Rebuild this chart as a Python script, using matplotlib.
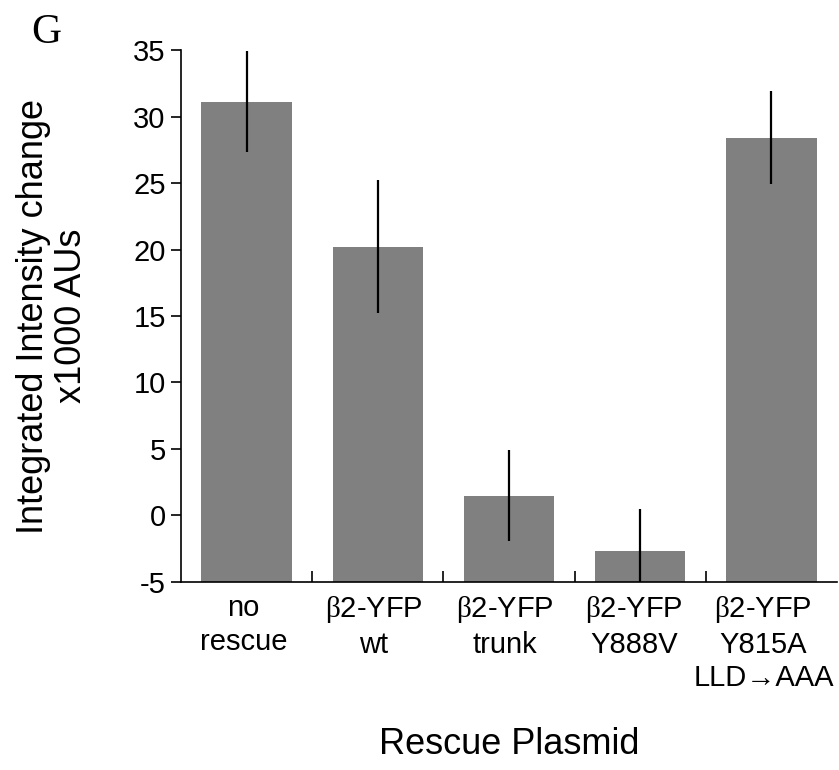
import numpy as np
import matplotlib.pyplot as plt
from matplotlib.transforms import ScaledTranslation

plt.rcParams['font.family'] = ['Liberation Sans', 'DejaVu Sans']
plt.rcParams['mathtext.fontset'] = 'custom'
plt.rcParams['mathtext.rm'] = 'Liberation Serif'

# data
beta = r'$\mathrm{β}$'
etiquetas = ['no\nrescue', beta + '2-YFP\nwt', beta + '2-YFP\ntrunk',
             beta + '2-YFP\nY888V', beta + '2-YFP\nY815A\nLLD\u2192AAA']
valores = np.array([31.1, 20.2, 1.5, -2.7, 28.4])
errores = np.array([3.8, 5.0, 3.4, 3.2, 3.5])
y_ticks = [-5, 0, 5, 10, 15, 20, 25, 30, 35]

fig = plt.figure(figsize=(8.39, 7.70), dpi=100)
ax = fig.add_axes([0.2157, 0.2442, 0.7819, 0.6908])

x = np.arange(len(valores))
base = y_ticks[0]
ax.bar(x, valores - base, bottom=base, width=0.69, color='#808080')
ax.errorbar(x, valores, yerr=errores, fmt='none', ecolor='black', elinewidth=1.6, capsize=0)

ax.set_xlim(-0.5, len(valores) - 0.5)
ax.set_ylim(-5, 35)
ax.set_yticks(y_ticks)
ax.set_yticklabels([str(t) for t in y_ticks], fontsize=21)
ax.tick_params(axis='y', direction='out', length=7, width=1.2, pad=4)

ax.set_xticks(x)
ax.set_xticklabels(etiquetas, fontsize=21, linespacing=1.25, va='top')
ax.tick_params(axis='x', which='major', length=0, pad=9)
ax.set_xticks(x[:-1] + 0.5, minor=True)
ax.tick_params(axis='x', which='minor', direction='in', length=8, width=1.2)

# labels sit a little left of the bar centres in the original
desplazamientos = [-3, -4, -4, -6, -8]
for lab, d in zip(ax.get_xticklabels(), desplazamientos):
    lab.set_transform(lab.get_transform() + ScaledTranslation(d / 100, 0, fig.dpi_scale_trans))

for s in ['top', 'right']:
    ax.spines[s].set_visible(False)
ax.spines['left'].set_linewidth(1.2)
ax.spines['bottom'].set_linewidth(1.2)

ax.set_ylabel('Integrated Intensity change\nx1000 AUs', fontsize=26, linespacing=1.1)
ax.yaxis.set_label_coords(-0.14, 0.5)
ax.set_xlabel('Rescue Plasmid', fontsize=26)
ax.xaxis.set_label_coords(0.5, -0.272)

fig.text(0.055, 0.958, 'G', fontsize=30, family='Liberation Serif', ha='center', va='center')

plt.savefig('out.png', dpi=100)
